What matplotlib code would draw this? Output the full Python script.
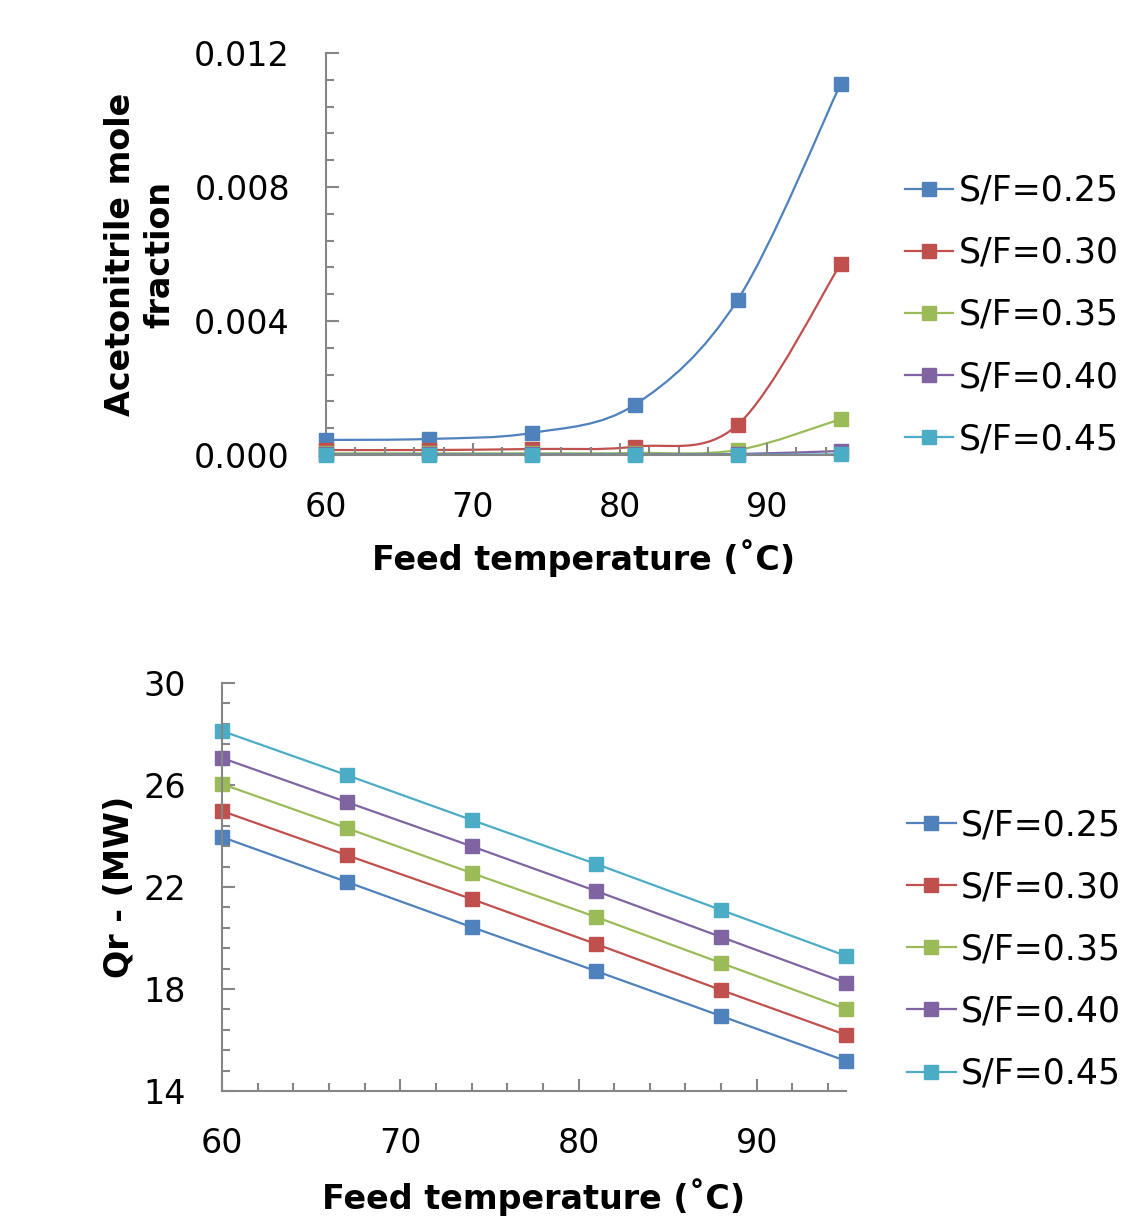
import numpy as np
import matplotlib.pyplot as plt
from matplotlib.path import Path
from matplotlib.patches import PathPatch
from matplotlib.lines import Line2D
from matplotlib.ticker import FormatStrFormatter

plt.rcParams['font.family'] = ['DejaVu Sans']

# data
temps = [60, 67, 74, 81, 88, 95]
labels = ['S/F=0.25', 'S/F=0.30', 'S/F=0.35', 'S/F=0.40', 'S/F=0.45']
colors = ['#4F81BD', '#C0504D', '#9BBB59', '#8064A2', '#4BACC6']

acn_025 = [0.00045, 0.00048, 0.00066, 0.0015, 0.00463, 0.01107]
acn_030 = [0.00015, 0.00015, 0.00018, 0.00025, 0.0009, 0.0057]
acn_035 = [0.00005, 0.00005, 0.00005, 0.00006, 0.00015, 0.00107]
acn_040 = [0.00002, 0.00002, 0.00002, 0.00002, 0.00003, 0.00012]
acn_045 = [0.00001, 0.00001, 0.00001, 0.00001, 0.00001, 0.00002]

qr_025 = [23.96, 22.2, 20.43, 18.7, 16.94, 15.18]
qr_030 = [24.98, 23.25, 21.53, 19.76, 17.96, 16.2]
qr_035 = [26.04, 24.31, 22.55, 20.82, 19.02, 17.22]
qr_040 = [27.06, 25.33, 23.6, 21.84, 20.04, 18.24]
qr_045 = [28.12, 26.39, 24.63, 22.9, 21.1, 19.3]

acn = [acn_025, acn_030, acn_035, acn_040, acn_045]
qr = [qr_025, qr_030, qr_035, qr_040, qr_045]


def smooth_path(x, y):
    # excel style smoothed line as cubic bezier segments
    pts = np.column_stack([x, y]).astype(float)
    n = len(pts)
    verts = [pts[0]]
    codes = [Path.MOVETO]
    for i in range(n - 1):
        p0 = pts[max(i - 1, 0)]
        p1 = pts[i]
        p2 = pts[i + 1]
        p3 = pts[min(i + 2, n - 1)]
        verts += [p1 + (p2 - p0) / 6, p2 - (p3 - p1) / 6, p2]
        codes += [Path.CURVE4] * 3
    return Path(verts, codes)


def style_axes(ax):
    for s in ['top', 'right']:
        ax.spines[s].set_visible(False)
    for s in ['left', 'bottom']:
        ax.spines[s].set_color('#868686')
        ax.spines[s].set_linewidth(1.5)
    ax.tick_params(which='major', direction='in', length=9, width=1.5,
                   color='#868686', labelsize=24, pad=26)
    ax.tick_params(which='minor', direction='in', length=6, width=1.5,
                   color='#868686')
    ax.set_xticks([60, 70, 80, 90])
    ax.set_xticks(np.arange(60, 95, 2), minor=True)
    ax.set_xlim(60, 95)


fig = plt.figure(figsize=(11.21, 12.16), dpi=100)
leg_kw = dict(bbox_transform=fig.transFigure, frameon=False, fontsize=25,
              handlelength=1.4, handletextpad=0.15, labelspacing=0.81,
              borderpad=0, borderaxespad=0, loc='center left')

# top: acetonitrile mole fraction
ax1 = fig.add_axes([0.2908, 0.6258, 0.459, 0.3306])
handles = []
for vals, lab, c in zip(acn, labels, colors):
    ax1.add_patch(PathPatch(smooth_path(temps, vals), fill=False,
                            edgecolor=c, lw=1.6, clip_on=False))
    ax1.plot(temps, vals, ls='none', marker='s', ms=10, color=c,
             clip_on=False, zorder=3)
    handles.append(Line2D([], [], color=c, lw=1.6, marker='s', ms=10,
                          label=lab))
ax1.set_ylim(0, 0.012)
ax1.set_yticks([0, 0.004, 0.008, 0.012])
ax1.set_yticks(np.arange(0, 0.01201, 0.0008), minor=True)
ax1.yaxis.set_major_formatter(FormatStrFormatter('%.3f'))
style_axes(ax1)
ax1.set_xlabel('Feed temperature (˚C)', fontsize=24, fontweight='bold')
ax1.set_ylabel('Acetonitrile mole\nfraction', fontsize=24, fontweight='bold',
               linespacing=1.25)
ax1.xaxis.set_label_coords(0.5, -0.21)
ax1.yaxis.set_label_coords(-0.29, 0.5)
ax1.legend(handles=handles, bbox_to_anchor=(0.807, 0.741), **leg_kw)

# bottom: reboiler duty
ax2 = fig.add_axes([0.198, 0.1028, 0.5566, 0.3355])
for vals, lab, c in zip(qr, labels, colors):
    ax2.plot(temps, vals, marker='s', ms=10, lw=1.6, color=c, label=lab,
             clip_on=False)
ax2.set_ylim(14, 30)
ax2.set_yticks([14, 18, 22, 26, 30])
ax2.set_yticks(np.arange(14, 30.01, 0.8), minor=True)
style_axes(ax2)
ax2.set_xlabel('Feed temperature (˚C)', fontsize=24, fontweight='bold')
ax2.set_ylabel('Qr - (MW)', fontsize=24, fontweight='bold')
ax2.xaxis.set_label_coords(0.5, -0.213)
ax2.yaxis.set_label_coords(-0.139, 0.5)
ax2.legend(bbox_to_anchor=(0.809, 0.2192), **leg_kw)

fig.savefig('out.png', dpi=100)
